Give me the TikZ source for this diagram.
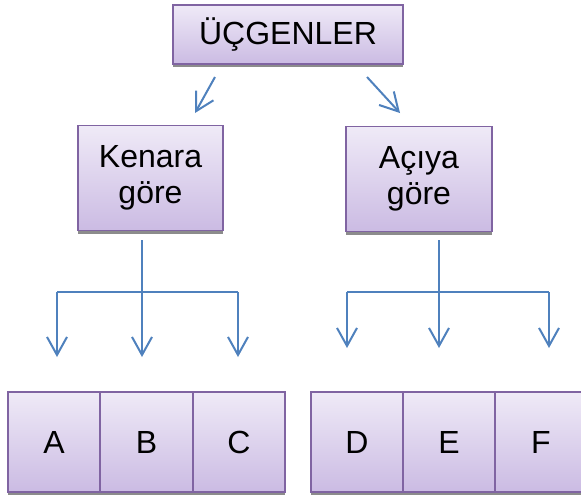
\documentclass[tikz,border=0pt]{standalone}
\usepackage{fontspec}
\setmainfont{Liberation Sans}
\usetikzlibrary{arrows.meta,shadows}

\definecolor{morkenar}{HTML}{8064A2}
\definecolor{morust}{HTML}{EFEAF7}
\definecolor{moralt}{HTML}{CBBBE3}
\definecolor{okmavi}{HTML}{4F81BD}

\begin{document}
\begin{tikzpicture}[x=1pt,y=-1pt,
    kutu/.style={draw=morkenar, line width=1.6pt, top color=morust, bottom color=moralt,
        inner sep=0pt, align=center, font=\fontsize{32}{36}\selectfont,
        drop shadow={shadow xshift=0pt, shadow yshift=-3pt, fill=black!45, opacity=1}},
    hat/.style={draw=okmavi, line width=2pt},
    ok/.style={hat, -{Straight Barb[length=18pt,width=20pt]}}]
        \def\kw{92.5pt}   % alt kutu genisligi
        \def\kh{100pt}    % alt kutu yuksekligi

        \useasboundingbox (0,0) rectangle (581,498);
        \clip (0,0) rectangle (581,498);

        % Baslik
        \node[kutu, minimum width=230pt, minimum height=59pt] (ucgen) at (288,34.5) {ÜÇGENLER};

        % Ikinci seviye
        \node[kutu, minimum width=145pt, minimum height=105pt] (kenar) at (150.5,178) {Kenara\\göre};
        \node[kutu, minimum width=146pt, minimum height=105pt] (aci) at (419,179) {Açıya\\göre};

        % Capraz oklar
        \coordinate (sol1) at (215,77);
        \coordinate (sol2) at (195,113);
        \coordinate (sag1) at (367,77);
        \coordinate (sag2) at (400,113);
        \draw[ok] (sol1) -- (sol2);
        \draw[ok] (sag1) -- (sag2);

        % Kenara gore dallari
        \coordinate (kg) at (142,240);
        \coordinate (kd) at (142,292);
        \coordinate (k1) at (57,292);
        \coordinate (k3) at (238,292);
        \draw[hat] (kg) -- (kd);
        \draw[hat] (k1) -- (k3);
        \draw[ok] (k1) -- (57,357);
        \draw[ok] (kd) -- (142,357);
        \draw[ok] (k3) -- (238,357);

        % Aciya gore dallari
        \coordinate (ag) at (439,240);
        \coordinate (ad) at (439,292);
        \coordinate (a1) at (347,292);
        \coordinate (a3) at (549,292);
        \draw[hat] (ag) -- (ad);
        \draw[hat] (a1) -- (a3);
        \draw[ok] (a1) -- (347,348);
        \draw[ok] (ad) -- (439,348);
        \draw[ok] (a3) -- (549,348);

        % Alt kutular
        \node[kutu, minimum width=\kw, minimum height=\kh] (A) at (54,442) {A};
        \node[kutu, minimum width=\kw, minimum height=\kh] (B) at (146.5,442) {B};
        \node[kutu, minimum width=\kw, minimum height=\kh] (C) at (239,442) {C};
        \node[kutu, minimum width=\kw, minimum height=\kh] (D) at (357,442) {D};
        \node[kutu, minimum width=\kw, minimum height=\kh] (E) at (449,442) {E};
        \node[kutu, minimum width=\kw, minimum height=\kh] (F) at (541,442) {F};
\end{tikzpicture}
\end{document}
